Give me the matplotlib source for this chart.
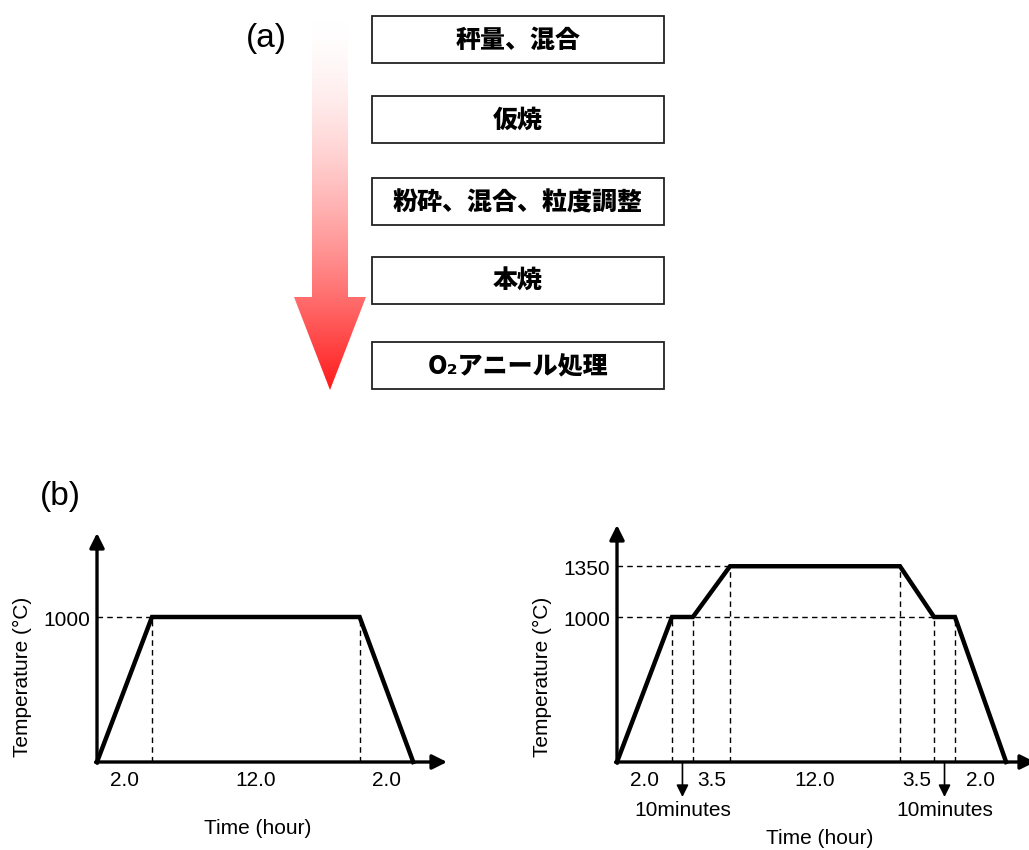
import numpy as np
import matplotlib
matplotlib.use('Agg')
import matplotlib.pyplot as plt
from matplotlib.patches import Polygon, Rectangle

plt.rcParams['font.family'] = ['Liberation Sans', 'DejaVu Sans']
jp_font = ['Noto Sans CJK JP', 'DejaVu Sans']

# (a) process flow
steps = ['秤量、混合', '仮焼', '粉砕、混合、粒度調整', '本焼', 'O₂アニール処理']

# (b) firing profiles (schematic time axis, temperature in degC)
left_t = [0.0, 2.0, 9.55, 11.5]
left_T = [0, 1000, 1000, 0]
left_seg = ['2.0', '12.0', '2.0']
left_ticks = [1000]
left_ref = [(1000, left_t[1])]

right_t = [0.0, 2.0, 2.76, 4.11, 10.29, 11.53, 12.29, 14.15]
right_T = [0, 1000, 1000, 1350, 1350, 1000, 1000, 0]
right_seg = ['2.0', None, '3.5', '12.0', '3.5', None, '2.0']
right_hold = [1, 5]          # 10 minute holds
right_ticks = [1350, 1000]
right_ref = [(1350, right_t[3]), (1000, right_t[5])]

W, H = 1029, 850
FS = 15
fig = plt.figure(figsize=(W / 100, H / 100), dpi=100)

# ---- (a) flow diagram, pixel coordinates
ax0 = fig.add_axes([0, 0, 1, 1])
ax0.set_xlim(0, W)
ax0.set_ylim(H, 0)
ax0.axis('off')

ax0.text(266, 38, '(a)', fontsize=24, ha='center', va='center')

arrow = Polygon([(312, 20), (348, 20), (348, 297), (366, 297), (330, 390),
                 (294, 297), (312, 297)], closed=True, fc='none', ec='none')
ax0.add_patch(arrow)
f = np.linspace(0, 1, 256)[:, None] ** 1.6
img = np.dstack([np.ones_like(f), 1 - 0.9 * f, 1 - 0.9 * f])
im = ax0.imshow(img, extent=[294, 366, 390, 20], aspect='auto', origin='upper')
im.set_clip_path(arrow)

box_tops = [16, 96, 178, 257, 342]
for top, s in zip(box_tops, steps):
    ax0.add_patch(Rectangle((372, top), 292, 47, fc='white', ec='#222222', lw=1.3))
    ax0.text(518, top + 24, s, fontsize=18, fontweight='heavy', family=jp_font,
             ha='center', va='center')

ax0.text(60, 496, '(b)', fontsize=24, ha='center', va='center')

# ---- (b) profiles
px_t = 27.5     # pixels per schematic time unit
px_T = 0.145    # pixels per degC


def profile(rect, t, T, seg, ticks, refs, hold=()):
    ax = fig.add_axes(rect)
    xmax = rect[2] * W / px_t
    ymax = rect[3] * H / px_T
    ax.set_xlim(0, xmax)
    ax.set_ylim(0, ymax)
    ax.axis('off')
    ax.patch.set_visible(False)
    ap = dict(arrowstyle='-|>', lw=2.4, color='k', mutation_scale=22,
              shrinkA=0, shrinkB=0)
    ax.annotate('', xy=(xmax, 0), xytext=(-0.05, 0), arrowprops=ap,
                annotation_clip=False)
    ax.annotate('', xy=(0, ymax), xytext=(0, -8), arrowprops=ap,
                annotation_clip=False)
    for lvl, xe in refs:
        ax.plot([0, xe], [lvl, lvl], ls=(0, (4, 3)), color='k', lw=1)
    for x, y in zip(t[1:-1], T[1:-1]):
        ax.plot([x, x], [0, y], ls=(0, (4, 3)), color='k', lw=1)
    ax.plot(t, T, color='k', lw=3.2, solid_joinstyle='miter', clip_on=False)
    for i, s in enumerate(seg):
        if s is None:
            continue
        ax.annotate(s, xy=((t[i] + t[i + 1]) / 2, 0), xytext=(0, -18),
                    textcoords='offset pixels', ha='center', va='center',
                    fontsize=FS, annotation_clip=False)
    for i in hold:
        m = (t[i] + t[i + 1]) / 2
        ax.annotate('', xy=(m, -35 / px_T), xytext=(m, 0),
                    arrowprops=dict(arrowstyle='-|>', lw=1.2, color='k',
                                    mutation_scale=18, shrinkA=0, shrinkB=0),
                    annotation_clip=False)
        ax.text(m, -49 / px_T, '10minutes', ha='center', va='center',
                fontsize=FS, clip_on=False)
    for v in ticks:
        ax.annotate(str(v), xy=(0, v), xytext=(-7, -3), textcoords='offset pixels',
                    ha='right', va='center', fontsize=FS, annotation_clip=False)
    return ax


profile([97 / W, 88 / H, 350 / W, 229 / H], left_t, left_T, left_seg,
        left_ticks, left_ref)
profile([617 / W, 88 / H, 418 / W, 237 / H], right_t, right_T, right_seg,
        right_ticks, right_ref, right_hold)

fig.text(258 / W, 1 - 828 / H, 'Time (hour)', ha='center', va='center', fontsize=FS)
fig.text(820 / W, 1 - 838 / H, 'Time (hour)', ha='center', va='center', fontsize=FS)
fig.text(22 / W, 1 - 677 / H, 'Temperature (°C)', rotation=90, ha='center',
         va='center', fontsize=FS)
fig.text(542 / W, 1 - 677 / H, 'Temperature (°C)', rotation=90, ha='center',
         va='center', fontsize=FS)

fig.savefig('out.png', dpi=100)
